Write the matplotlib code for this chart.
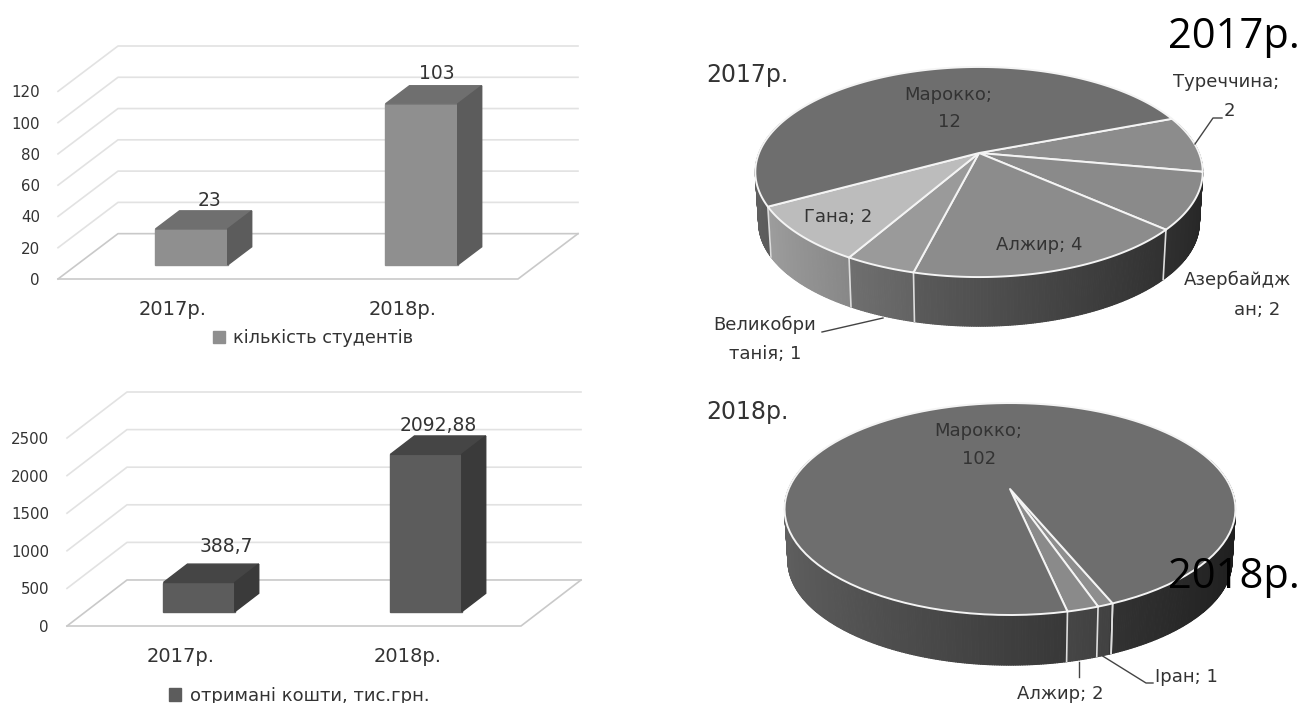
import numpy as np
import matplotlib
matplotlib.use('Agg')
import matplotlib.pyplot as plt
from matplotlib.collections import PolyCollection
from matplotlib.patches import Patch

W, H = 1305, 703

# дані
years = ['2017р.', '2018р.']
students = [23, 103]
student_ticks = [0, 20, 40, 60, 80, 100, 120]
funds = [388.7, 2092.88]
fund_labels = ['388,7', '2092,88']
fund_ticks = [0, 500, 1000, 1500, 2000, 2500]

pie17_names = ['Туреччина', 'Азербайджан', 'Алжир', 'Великобританія', 'Гана', 'Марокко']
pie17_values = [2, 2, 4, 1, 2, 12]
pie18_names = ['Іран', 'Алжир', 'Марокко']
pie18_values = [1, 2, 102]

plt.rcParams['font.family'] = ['DejaVu Sans']
TEXT = '#333333'

fig = plt.figure(figsize=(W / 100, H / 100), dpi=100, facecolor='white')


def px_rect(left, top, right, bottom):
    return [left / W, 1 - bottom / H, (right - left) / W, (bottom - top) / H]


def bar_panel(rect, values, labels, ticks, depth_y, colors, legend, legend_xy, offsets, legend_size):
    left, top, right, bottom = rect
    ax = fig.add_axes(px_rect(*rect))
    ax.patch.set_visible(False)
    for spine in ax.spines.values():
        spine.set_visible(False)
    # глибина підлоги: 60 px вправо від передньої грані
    depth_x = 2 * 60 / (right - left - 60)
    ax.set_xlim(-0.5, 1.5 + depth_x)
    ax.set_ylim(0, ticks[-1] + depth_y)

    def proj(x, y, d):
        return x + d * depth_x, y + d * depth_y

    grid = '#e2e2e2'
    floor = '#c9c9c9'
    for t in ticks:
        p0 = proj(-0.5, t, 0)
        p1 = proj(-0.5, t, 1)
        p2 = proj(1.5, t, 1)
        color = floor if t == 0 else grid
        ax.plot([p0[0], p1[0], p2[0]], [p0[1], p1[1], p2[1]], color=color, lw=1.2, clip_on=False)
    p = [proj(-0.5, 0, 0), proj(1.5, 0, 0), proj(1.5, 0, 1)]
    ax.plot(*zip(*p), color=floor, lw=1.2, clip_on=False)

    half = 0.157
    d0, d1 = 0.31, 0.71
    front, top_c, side = colors
    for i, v in enumerate(values):
        a, b = i - half, i + half
        ax.fill(*zip(proj(a, 0, d0), proj(b, 0, d0), proj(b, v, d0), proj(a, v, d0)), color=front, zorder=3)
        ax.fill(*zip(proj(a, v, d0), proj(b, v, d0), proj(b, v, d1), proj(a, v, d1)), color=top_c, zorder=3)
        ax.fill(*zip(proj(b, 0, d0), proj(b, 0, d1), proj(b, v, d1), proj(b, v, d0)), color=side, zorder=3)
        ax.annotate(labels[i], proj(i, v, d1), xytext=offsets[i], textcoords='offset pixels',
                    ha='center', va='center', fontsize=13.5, color=TEXT)

    ax.set_xticks(range(len(years)))
    ax.set_xticklabels(years, fontsize=14, color=TEXT)
    ax.set_yticks(ticks)
    ax.set_yticklabels([str(t) for t in ticks], fontsize=10.8, color=TEXT)
    ax.tick_params(axis='x', length=0, pad=15)
    ax.tick_params(axis='y', length=0, pad=13)
    ax.legend(handles=[Patch(color=front, label=legend)], loc='center',
              bbox_to_anchor=(legend_xy[0] / W, 1 - legend_xy[1] / H), bbox_transform=fig.transFigure,
              frameon=False, fontsize=legend_size, handlelength=0.7, handleheight=0.7, handletextpad=0.45,
              labelcolor=TEXT, borderpad=0)


bar_panel((58, 46, 578, 279), students, [str(v) for v in students], student_ticks, 29,
          ('#8f8f8f', '#6f6f6f', '#5c5c5c'), 'кількість студентів', (313, 338),
          [(-6, 10), (-9, 12)], 12.8)
bar_panel((67, 392, 581, 626), funds, fund_labels, fund_ticks, 612,
          ('#5c5c5c', '#454545', '#3a3a3a'), 'отримані кошти, тис.грн.', (299, 696),
          [(3, 18), (-12, 10)], 13)

# шар у пікселях для кругових діаграм і підписів
ov = fig.add_axes([0, 0, 1, 1])
ov.set_xlim(0, W)
ov.set_ylim(H, 0)
ov.axis('off')


def pie_panel(values, colors, start, center, a, c, k, drop=50):
    cx, cy = center

    def rim(theta, lower=False):
        t = np.radians(theta)
        w = 1 + k * np.sin(t)
        s = 0.985 if lower else 1.0
        return cx + s * a * np.cos(t) / w, cy - s * c * np.sin(t) / w + (drop if lower else 0)

    values = np.asarray(values, dtype=float)
    edges = start - np.concatenate([[0], np.cumsum(values)]) / values.sum() * 360

    # бічна стінка
    polys, shades = [], []
    for i in range(len(values)):
        thetas = np.arange(edges[i], edges[i + 1] - 0.5, -0.5)
        thetas = np.append(thetas, edges[i + 1])
        base = matplotlib.colors.to_rgb(colors[i])[0]
        for t0, t1 in zip(thetas[:-1], thetas[1:]):
            if np.sin(np.radians((t0 + t1) / 2)) > 0.3:
                continue
            polys.append([rim(t0), rim(t1), rim(t1, True), rim(t0, True)])
            f = 0.87 - 0.3 * (np.cos(np.radians((t0 + t1) / 2)) + 1)
            shades.append((base * f,) * 3)
    ov.add_collection(PolyCollection(polys, facecolors=shades, edgecolors=shades, linewidths=0.8, zorder=2))

    for e in edges:
        if np.sin(np.radians(e)) < -0.3:
            x0, y0 = rim(e)
            x1, y1 = rim(e, True)
            ov.plot([x0, x1], [y0, y1], color='#dddddd', lw=1.2, zorder=3)

    # верхня грань
    for i in range(len(values)):
        thetas = np.linspace(edges[i], edges[i + 1], 120)
        xs, ys = rim(thetas)
        ov.fill(np.r_[cx, xs], np.r_[cy, ys], facecolor=colors[i], edgecolor='#f4f4f4',
                lw=1.4, joinstyle='round', zorder=4)


pie_panel(pie17_values, ['#8c8c8c', '#8a8a8a', '#8c8c8c', '#9a9a9a', '#bcbcbc', '#6e6e6e'],
          21, (979, 153), 220, 101.6, 0.181, drop=51)
pie_panel(pie18_values, ['#8e8e8e', '#8a8a8a', '#6e6e6e'],
          -67.5, (1010, 489), 221.4, 102.2, 0.189, drop=52)

# підписи кругових діаграм
pie_labels = [
    ('Марокко;', 948, 95), ('12', 949, 122), ('Туреччина;', 1226, 82), ('2', 1229, 111),
    ('Гана; 2', 838, 217), ('Алжир; 4', 1039, 245), ('Азербайдж', 1237, 280), ('ан; 2', 1257, 310),
    ('Великобри', 765, 325), ('танія; 1', 765, 354),
    ('Марокко;', 978, 431), ('102', 979, 459), ('Алжир; 2', 1060, 694), ('Іран; 1', 1186, 677),
]
for text, x, y in pie_labels:
    ov.text(x, y, text, ha='center', va='center', fontsize=13, color=TEXT, zorder=6)

leaders = [
    [(1195, 144), (1213, 118), (1222, 118)],
    [(822, 332), (883, 318)],
    [(1079, 662), (1079, 677)],
    [(1101, 655), (1146, 683), (1153, 683)],
]
for pts in leaders:
    ov.plot(*zip(*pts), color='#444444', lw=1, zorder=6)

ov.text(706, 75, '2017р.', ha='left', va='center', fontsize=17, color=TEXT, zorder=6)
ov.text(706, 412, '2018р.', ha='left', va='center', fontsize=17, color=TEXT, zorder=6)

ov.text(1168, 37, '2017р.', ha='left', va='center', fontsize=30, color='black', family='Open Sans', zorder=7)
ov.text(1168, 577, '2018р.', ha='left', va='center', fontsize=30, color='black', family='Open Sans', zorder=7)

fig.savefig('out.png', dpi=100, facecolor='white')
